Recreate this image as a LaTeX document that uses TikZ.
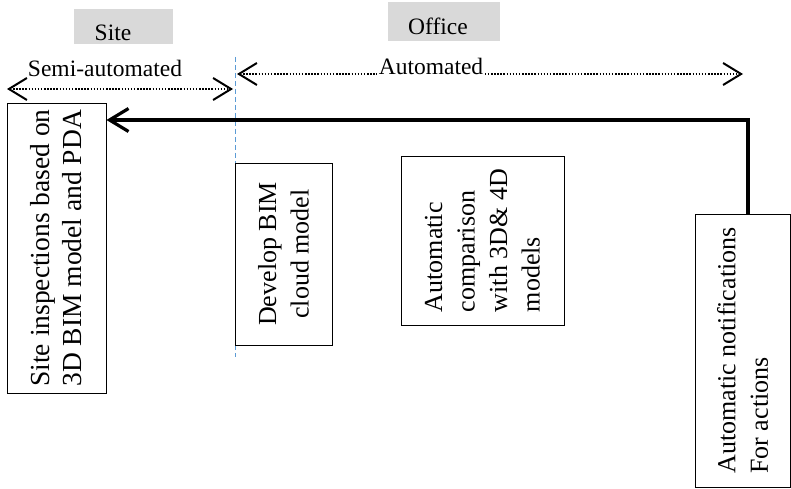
\documentclass[tikz,border=0pt]{standalone}
\usepackage{fontspec}
\setmainfont{Liberation Serif}
\usetikzlibrary{arrows.meta,calc}
\definecolor{graybox}{HTML}{D9D9D9}
\definecolor{guideblue}{HTML}{5B9BD5}
\tikzset{
  lbl/.style={font=\fontsize{23.5}{28}\selectfont, inner sep=0pt},
  tab/.style={fill=graybox, draw=none},
  stage/.style={draw, line width=0.9pt, rotate=90, align=left, inner sep=0pt,
    font=\fontsize{26}{32.5}\selectfont},
  dotline/.style={line width=2.3pt, dash pattern=on 1.5pt off 1.6pt},
  thinbarb/.style={arrows={Straight Barb[length=18pt,width=22pt,line width=2pt]-Straight Barb[length=18pt,width=22pt,line width=2pt]}},
  feedback/.style={line width=4pt, line join=miter,
    arrows={-Straight Barb[length=19pt,width=23pt,line width=3.2pt]}},
  guide/.style={draw=guideblue, line width=0.9pt, dash pattern=on 5pt off 3pt}
}
\begin{document}
\begin{tikzpicture}[x=1pt,y=-1pt]
\useasboundingbox (0,0) rectangle (791,489);
% grey header tabs
\path[tab] (74,9) rectangle (173,44);
\path[tab] (388,2) rectangle (500,41);
\node[lbl, anchor=base] (site) at (113,41) {Site};
\node[lbl, anchor=base] (office) at (438,35) {Office};
% guide line
\coordinate (gtop) at (235,57);
\coordinate (gbot) at (235,357);
\draw[guide] (gtop) -- (gbot);
% semi-automated
\coordinate (sl) at (7,89);
\coordinate (sr) at (233,89);
\draw[dotline, thinbarb] (sl) -- (sr);
\node[lbl, anchor=base] (semi) at (105,77) {Semi-automated};
% automated
\coordinate (al) at (237,74);
\coordinate (ar) at (743,74);
\draw[dotline, thinbarb] (al) -- (ar);
\node[lbl, anchor=base, fill=white, inner sep=1.5pt] (auto) at (431,74.5) {Automated};
% stage boxes
\node[stage, minimum width=290, minimum height=99, font=\fontsize{27.5}{32}\selectfont] (b1) at (56.5,248)
  {Site inspections based on\\3D BIM model and PDA};
\node[stage, align=center, minimum width=182, minimum height=97] (b2) at (283.5,254)
  {Develop BIM\\cloud model};
\node[stage, minimum width=169, minimum height=163] (b3) at (482.5,240.5)
  {Automatic\\comparison\\with 3D\& 4D\\models};
\node[stage, minimum width=273, minimum height=95] (b4) at (742.5,350.5)
  {Automatic notifications\\For actions};
% feedback arrow
\coordinate (fb) at ($(b4.east)+(5.5,0)$);
\coordinate (fbtop) at (748,120);
\draw[feedback] (fb) -- (fbtop) -- (fbtop -| b1.south);
\end{tikzpicture}
\end{document}
